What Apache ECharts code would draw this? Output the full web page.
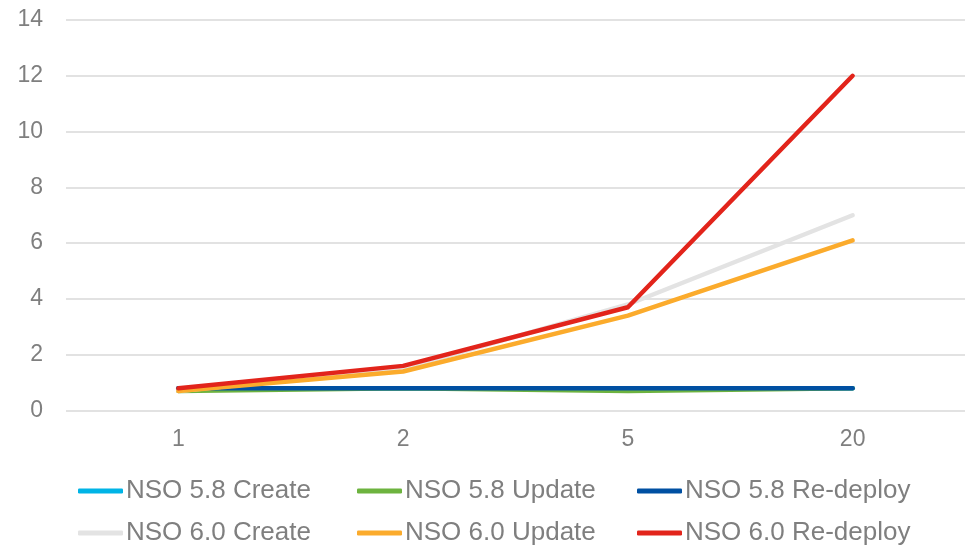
<!DOCTYPE html>
<html>
<head>
<meta charset="utf-8">
<script src="https://cdn.jsdelivr.net/npm/echarts@6/dist/echarts.min.js"></script>
<style>
html,body{margin:0;padding:0;background:#fff;}
#chart{width:972px;height:552px;}
</style>
</head>
<body>
<div id="chart"></div>
<script>
const categories = ['1', '2', '5', '20'];
const nso58Create = [0.8, 0.8, 0.8, 0.8];
const nso58Update = [0.7, 0.8, 0.7, 0.8];
const nso58Redeploy = [0.8, 0.8, 0.8, 0.8];
const nso60Create = [0.7, 1.5, 3.8, 7.0];
const nso60Update = [0.7, 1.4, 3.4, 6.1];
const nso60Redeploy = [0.8, 1.6, 3.7, 12.0];
const seriesNames = ['NSO 5.8 Create', 'NSO 5.8 Update', 'NSO 5.8 Re-deploy', 'NSO 6.0 Create', 'NSO 6.0 Update', 'NSO 6.0 Re-deploy'];
const seriesData = [nso58Create, nso58Update, nso58Redeploy, nso60Create, nso60Update, nso60Redeploy];
const colors = ['#00B4E6', '#6DB33F', '#0050A2', '#E3E3E3', '#FBAB2C', '#E2241B'];

const font = '"Liberation Sans", Arial, sans-serif';
const textColor = '#7F7F7F';

function legendCol(left, names) {
  return {
    orient: 'vertical',
    left: left,
    top: 477,
    icon: 'roundRect',
    itemWidth: 45,
    itemHeight: 5,
    itemGap: 14,
    padding: 0,
    data: names,
    textStyle: { fontFamily: font, fontSize: 26, color: textColor, lineHeight: 28, padding: [0, 0, 0, -2] }
  };
}

const chart = echarts.init(document.getElementById('chart'), null, { renderer: 'canvas' });
chart.setOption({
  animation: false,
  backgroundColor: '#fff',
  grid: { left: 66, right: 7, top: 20, bottom: 141.5, containLabel: false },
  legend: [
    legendCol(78, [seriesNames[0], seriesNames[3]]),
    legendCol(357, [seriesNames[1], seriesNames[4]]),
    legendCol(637, [seriesNames[2], seriesNames[5]])
  ],
  xAxis: {
    type: 'category',
    data: categories,
    boundaryGap: true,
    axisLine: { show: false },
    axisTick: { show: false },
    axisLabel: { fontFamily: font, fontSize: 23, color: textColor, margin: 18 }
  },
  yAxis: {
    type: 'value',
    min: 0,
    max: 14,
    interval: 2,
    axisLine: { show: false },
    axisTick: { show: false },
    axisLabel: { fontFamily: font, fontSize: 23, color: textColor, margin: 23 },
    splitLine: { lineStyle: { color: '#D9D9D9', width: 1.5 } }
  },
  series: seriesNames.map((name, i) => ({
    name: name,
    type: 'line',
    data: seriesData[i],
    symbol: 'none',
    color: colors[i],
    itemStyle: { color: colors[i] },
    lineStyle: { width: 4.5, color: colors[i], cap: 'round', join: 'round' }
  }))
});
</script>
</body>
</html>
